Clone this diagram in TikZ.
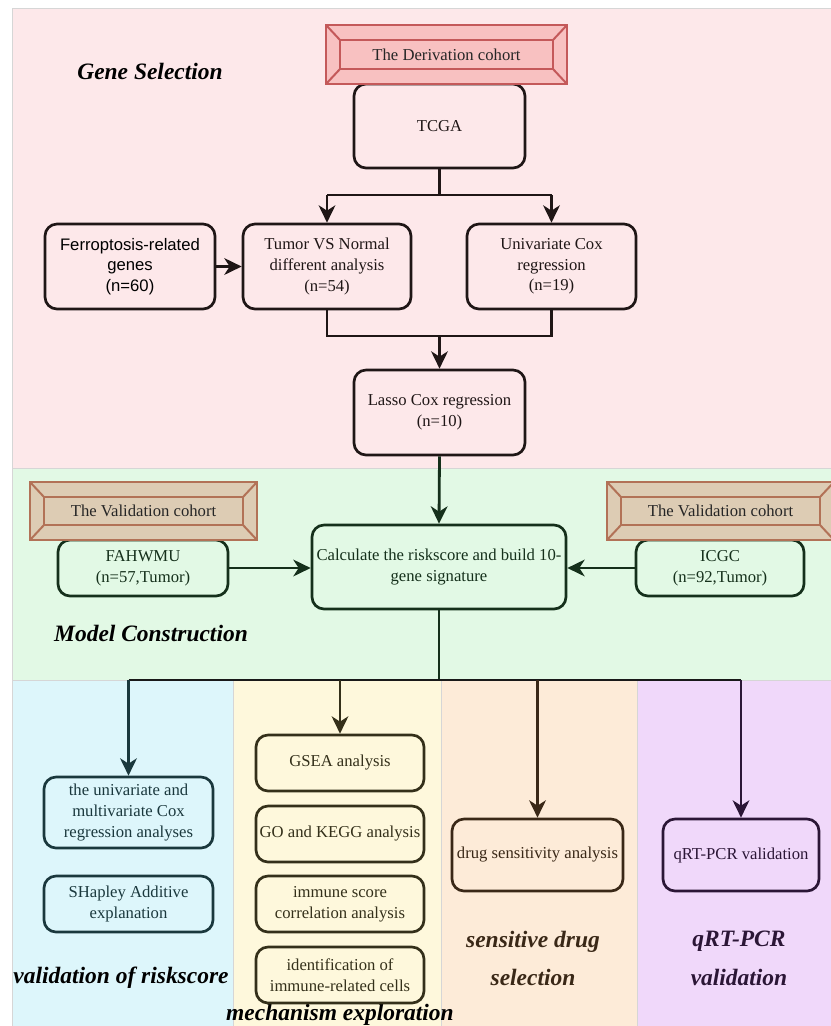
\documentclass[tikz,border=0pt]{standalone}
\usepackage{fontspec}
\setmainfont{Liberation Serif}
\newfontfamily\arialfont{Liberation Sans}
\usetikzlibrary{arrows.meta}
\definecolor{bgpink}{HTML}{FDE8EA}
\definecolor{bggreen}{HTML}{E2F9E5}
\definecolor{bgcyan}{HTML}{DDF6FB}
\definecolor{bgyellow}{HTML}{FEF8DC}
\definecolor{bgpeach}{HTML}{FDEBD8}
\definecolor{bgpurple}{HTML}{F0D8FA}
\definecolor{edgegray}{HTML}{D6D6D6}
\definecolor{kpink}{HTML}{1F1616}
\definecolor{kgreen}{HTML}{15301B}
\definecolor{kcyan}{HTML}{1A383D}
\definecolor{kyellow}{HTML}{34301A}
\definecolor{kpeach}{HTML}{3A2817}
\definecolor{kpurple}{HTML}{2B1636}
\definecolor{derivfill}{HTML}{F8C1C1}
\definecolor{derivline}{HTML}{C4595A}
\definecolor{valfill}{HTML}{DDCCB4}
\definecolor{valline}{HTML}{B27257}
\newcommand{\bevelbox}[9]{%
  \fill[#9,draw=none] (#2,#3) rectangle (#4,#5);
  \draw[#9,fill=none] (#2,#3) rectangle (#4,#5);
  \draw[#9,fill=none] (#2+#6,#3+#7) rectangle (#4-#6,#5-#7);
  \draw[#9] (#2,#3) -- (#2+#6,#3+#7);
  \draw[#9] (#4,#3) -- (#4-#6,#3+#7);
  \draw[#9] (#2,#5) -- (#2+#6,#5-#7);
  \draw[#9] (#4,#5) -- (#4-#6,#5-#7);
  \node[boxtext] (#1) at ({(#2+#4)/2},{(#3+#5)/2}) {#8};
}
\tikzset{
  boxtext/.style={font=\fontsize{12.5}{15.5}\selectfont, text=black!85, inner sep=0pt, align=center},
  rbox/.style={draw, line width=2pt, rounded corners=9pt, align=center, inner sep=1pt,
    font=\fontsize{12.5}{15.5}\selectfont},
  derivstyle/.style={fill=derivfill, draw=derivline, line width=1.5pt},
  valstyle/.style={fill=valfill, draw=valline, line width=1.5pt},
  conn/.style={line width=2.1pt},
  arr/.style={line width=2.1pt, -{Stealth[length=13pt,width=12.5pt,inset=4pt]}},
  seclabel/.style={font=\fontsize{17.6}{29}\selectfont\bfseries\itshape, inner sep=0pt, align=center},
  region/.style={draw=edgegray, line width=0.5pt},
}
\begin{document}
\begin{tikzpicture}[x=0.75pt,y=-0.75pt]
\useasboundingbox (0,0) rectangle (831,1026);
\fill[white] (0,0) rectangle (831,1026);
% regions
\filldraw[region, fill=bgpink] (12,8) rectangle (834,468);
\filldraw[region, fill=bggreen] (12,468) rectangle (834,680);
\filldraw[region, fill=bgcyan] (12,680) rectangle (233,1030);
\filldraw[region, fill=bgyellow] (233,680) rectangle (441,1030);
\filldraw[region, fill=bgpeach] (441,680) rectangle (637,1030);
\filldraw[region, fill=bgpurple] (637,680) rectangle (834,1030);

% section labels
\node[seclabel] (lgene) at (150,71) {Gene Selection};
\node[seclabel] (lmodel) at (151,633) {Model Construction};
\node[seclabel] (lvalid) at (121,978) {validation of riskscore};
\node[seclabel] (lmech) at (340,1015) {mechanism exploration};
\node[seclabel, text=kpeach] (ldrug) at (533,958.5) {sensitive drug\\selection};
\node[seclabel, text=kpurple] (lqrt) at (739,958.5) {qRT-PCR\\validation};

% pink section
\node[rbox, draw=kpink, text=kpink, minimum width=128.25pt, minimum height=63pt] (tcga) at (439.5,126) {TCGA};
\node[rbox, draw=kpink, text=black, minimum width=127.5pt, minimum height=63.75pt, font=\arialfont\fontsize{12.5}{15.5}\selectfont] (ferro) at (130,266.5) {Ferroptosis-related\\genes\\(n=60)};
\node[rbox, draw=kpink, text=kpink, minimum width=126pt, minimum height=63.75pt] (tvn) at (327,266.5) {Tumor VS Normal\\different analysis\\(n=54)};
\node[rbox, draw=kpink, text=kpink, minimum width=126.75pt, minimum height=63.75pt] (uni) at (551.5,266.5) {Univariate Cox\\regression\\(n=19)};
\node[rbox, draw=kpink, text=kpink, minimum width=128.25pt, minimum height=63.75pt] (lasso) at (439.5,412.5) {Lasso Cox regression\\(n=10)};

\bevelbox{deriv}{326}{25}{567}{84}{14}{15}{The Derivation cohort}{derivstyle}

\coordinate (j1) at (439.5,195);
\coordinate (j2) at (439.5,336);
\draw[conn, kpink] (tcga.south) -- (j1);
\draw[conn, kpink] (j1 -| tvn.north) -- (j1 -| uni.north);
\draw[arr, kpink] (j1 -| tvn.north) -- (tvn.north);
\draw[arr, kpink] (j1 -| uni.north) -- (uni.north);
\draw[arr, kpink] (ferro.east) -- (tvn.west);
\draw[conn, kpink] (tvn.south) -- (tvn.south |- j2) -- (uni.south |- j2) -- (uni.south);
\draw[arr, kpink] (j2) -- (lasso.north);

% green section
\node[rbox, draw=kgreen, text=kgreen, minimum width=127.5pt, minimum height=42pt] (fah) at (143,568) {FAHWMU\\(n=57,Tumor)};
\node[rbox, draw=kgreen, text=kgreen, minimum width=190.5pt, minimum height=63pt, inner sep=0pt] (calc) at (439,567) {Calculate the riskscore and build 10-\\gene signature};
\node[rbox, draw=kgreen, text=kgreen, minimum width=126pt, minimum height=42pt] (icgc) at (720,568) {ICGC\\(n=92,Tumor)};
\bevelbox{valL}{30}{482}{257}{540}{14}{15}{The Validation cohort}{valstyle}
\bevelbox{valR}{607}{482}{834}{540}{14}{15}{The Validation cohort}{valstyle}

\draw[arr, kgreen] (lasso.south) -- (calc.north);
\draw[arr, kgreen] (fah.east) -- (fah.east -| calc.west);
\draw[arr, kgreen] (icgc.west) -- (icgc.west -| calc.east);

% bottom sections
\node[rbox, draw=kcyan, text=kcyan, minimum width=126.75pt, minimum height=53.25pt] (cox) at (128.5,812.5) {the univariate and\\multivariate Cox\\regression analyses};
\node[rbox, draw=kcyan, text=kcyan, minimum width=126.75pt, minimum height=42pt] (shap) at (128.5,904) {SHapley Additive\\explanation};
\node[rbox, draw=kyellow, text=kyellow, minimum width=126pt, minimum height=42pt] (gsea) at (340,763) {GSEA analysis};
\node[rbox, draw=kyellow, text=kyellow, minimum width=126pt, minimum height=42pt, inner sep=0pt] (go) at (340,834) {GO and KEGG analysis};
\node[rbox, draw=kyellow, text=kyellow, minimum width=126pt, minimum height=42pt] (imm) at (340,904) {immune score\\correlation analysis};
\node[rbox, draw=kyellow, text=kyellow, minimum width=126pt, minimum height=42pt] (ident) at (340,975) {identification of\\immune-related cells};
\node[rbox, draw=kpeach, text=kpeach, minimum width=128.25pt, minimum height=54pt, inner sep=0pt] (drug) at (537.5,855) {drug sensitivity analysis};
\node[rbox, draw=kpurple, text=kpurple, minimum width=117pt, minimum height=54pt] (qrt) at (741,855) {qRT-PCR validation};

\coordinate (j3) at (439,680);
\draw[conn, kgreen] (calc.south) -- (j3);
\draw[conn, black!90] (j3 -| cox.north) -- (j3 -| qrt.north);
\draw[arr, kcyan] (j3 -| cox.north) -- (cox.north);
\draw[arr, kyellow] (j3 -| gsea.north) -- (gsea.north);
\draw[arr, kpeach] (j3 -| drug.north) -- (drug.north);
\draw[arr, kpurple] (j3 -| qrt.north) -- (qrt.north);
\end{tikzpicture}
\end{document}
